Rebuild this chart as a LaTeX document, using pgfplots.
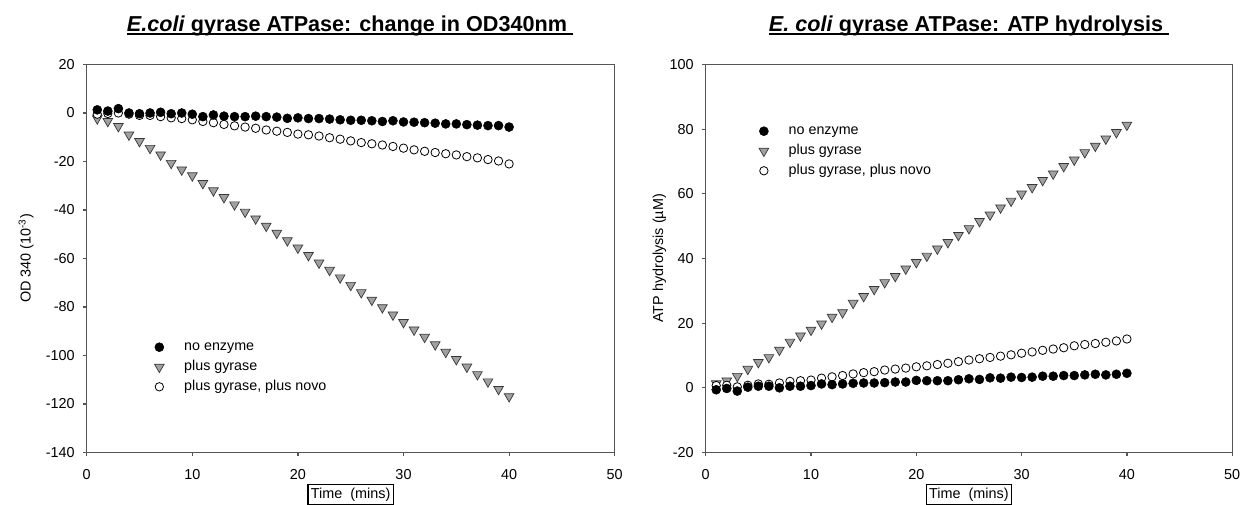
\documentclass[border=0pt]{standalone}
\usepackage{fontspec}
\setmainfont{Liberation Sans}
\usepackage{pgfplots}
\pgfplotsset{compat=1.18}
\usepackage{pgfplotstable}

\definecolor{axgray}{RGB}{85,85,85}
\definecolor{trifill}{RGB}{160,160,160}
\definecolor{triedge}{RGB}{55,55,55}

% change in OD340 (x 10^-3)
\pgfplotstableread{
t   ne    gy      nv
1   1.3   -2.3    -0.5
2   0.8   -3.4    -0.2
3   1.8   -5.5    0.0
4   0.0   -9.0    -0.5
5   -0.3  -11.7   -1.0
6   0.0   -14.5   -1.0
7   0.3   -17.2   -1.5
8   -0.3  -20.7   -2.0
9   0.0   -23.4   -2.3
10  -0.5  -25.8   -2.8
11  -1.5  -29.0   -3.5
12  -0.8  -32.0   -4.0
13  -1.3  -34.8   -4.7
14  -1.5  -37.8   -5.3
15  -1.5  -40.8   -5.8
16  -1.3  -43.6   -6.3
17  -1.5  -46.6   -7.0
18  -1.7  -49.5   -7.5
19  -2.2  -52.6   -8.0
20  -2.0  -55.6   -8.7
21  -2.3  -58.7   -9.0
22  -2.3  -61.8   -9.5
23  -2.5  -64.8   -10.2
24  -2.8  -67.9   -10.8
25  -3.0  -71.0   -11.5
26  -3.0  -74.0   -12.2
27  -3.2  -77.1   -12.7
28  -3.5  -80.2   -13.2
29  -3.2  -83.2   -13.8
30  -3.7  -86.3   -14.5
31  -3.8  -89.4   -15.2
32  -4.0  -92.4   -15.8
33  -4.2  -95.5   -16.3
34  -4.5  -98.6   -16.8
35  -4.5  -101.6  -17.3
36  -4.8  -104.7  -18.0
37  -5.0  -107.8  -18.5
38  -5.2  -110.8  -19.2
39  -5.2  -113.9  -19.8
40  -5.8  -116.9  -21.0
}\odtab

% ATP hydrolysis (uM)
\pgfplotstableread{
t   ne    gy     nv
1   -0.6  1.3    0.7
2   -0.2  2.2    0.8
3   -1.0  3.6    0.3
4   0.2   5.8    0.8
5   0.5   7.9    1.2
6   0.5   9.4    1.1
7   0.0   11.7   1.5
8   0.5   14.2   2.0
9   0.5   16.1   2.2
10  0.7   17.9   2.4
11  1.2   19.8   3.0
12  1.0   21.9   3.4
13  1.2   23.3   3.8
14  1.4   26.2   4.3
15  1.5   28.3   4.7
16  1.5   30.5   5.0
17  1.6   32.6   5.5
18  1.8   34.5   5.8
19  1.8   36.8   6.1
20  2.3   38.8   6.5
21  2.2   40.8   6.8
22  2.2   43.0   7.2
23  2.2   45.0   7.6
24  2.5   47.2   8.1
25  2.8   49.3   8.6
26  2.6   51.5   9.0
27  3.1   53.5   9.4
28  3.0   55.7   9.8
29  3.3   57.8   10.2
30  3.2   60.0   10.7
31  3.3   62.0   11.1
32  3.6   64.2   11.6
33  3.6   66.2   12.0
34  3.8   68.5   12.4
35  3.8   70.5   13.0
36  4.0   72.8   13.4
37  4.2   74.8   13.7
38  4.0   77.0   14.1
39  4.2   79.0   14.5
40  4.5   81.3   15.1
}\atptab

\pgfplotsset{
  noenz/.style={only marks, mark=*, mark size=4.5pt,
    mark options={fill=black, draw=black, line width=0.5pt}},
  plusgy/.style={only marks, mark=triangle*, mark size=5.6pt,
    mark options={rotate=180, fill=trifill, draw=triedge, line width=0.7pt}},
  novo/.style={only marks, mark=*, mark size=4.2pt,
    mark options={fill=white, draw=black, line width=0.8pt}},
  chart/.style={
    scale only axis, anchor=south west,
    height=388pt,
    xmin=0, xmax=50, xtick={0,10,...,50},
    axis line style={axgray, line width=1.2pt},
    every tick/.style={axgray, line width=1.2pt},
    tick align=outside, major tick length=4pt,
    xtick pos=left, ytick pos=left,
    tick label style={font=\fontsize{14.4}{16}\selectfont},
    xticklabel style={yshift=-9pt},
    yticklabel style={xshift=-4.5pt},
    /pgf/number format/assume math mode=true,
    label style={font=\fontsize{14.4}{16}\selectfont},
    xlabel={Time\ \ (mins)},
    xlabel style={draw=black, line width=1.2pt, inner xsep=3pt, inner ysep=3.5pt,
      text height=10pt, text depth=3pt,
      at={(axis description cs:0.5,-0.0812)}, anchor=north},
    legend style={draw=none, fill=none, inner sep=0pt, row sep=2.8pt,
      column sep=18pt, anchor=north west,
      font=\fontsize{14.3}{16}\selectfont,
      nodes={inner sep=2pt, text height=10pt, text depth=3pt}},
    legend cell align=left,
    legend image code/.code={\draw[##1] plot coordinates {(0pt,0pt)};},
  },
}

\begin{document}
\begin{tikzpicture}
\useasboundingbox (0pt,0pt) rectangle (1240pt,505pt);

\node[anchor=base, inner sep=0pt, font=\fontsize{21.6}{24}\selectfont\bfseries] (t1)
  at (350pt,473.3pt) {\textit{E.coli} gyrase ATPase: change in OD340nm\ \kern0pt};
\draw[line width=1.4pt] ([yshift=-2.2pt]t1.base west) -- ([yshift=-2.2pt]t1.base east);

\node[anchor=base, inner sep=0pt, font=\fontsize{21.6}{24}\selectfont\bfseries] (t2)
  at (969pt,473.3pt) {\textit{E. coli} gyrase ATPase: ATP hydrolysis\ \kern0pt};
\draw[line width=1.4pt] ([yshift=-2.2pt]t2.base west) -- ([yshift=-2.2pt]t2.base east);

\begin{axis}[chart, at={(86.7pt,52.5pt)}, width=528pt,
  ymin=-140, ymax=20, ytick={-140,-120,...,20},
  ylabel={OD 340 (10\textsuperscript{-3})},
  ylabel style={at={(axis description cs:-0.106,0.5)}, anchor=base},
  legend style={at={(0.128,0.2938)}}]
\addlegendimage{noenz}\addlegendentry{no enzyme}
\addlegendimage{plusgy}\addlegendentry{plus gyrase}
\addlegendimage{novo}\addlegendentry{plus gyrase, plus novo}
\addplot[plusgy, forget plot] table[x=t, y=gy] {\odtab};
\addplot[novo, forget plot] table[x=t, y=nv] {\odtab};
\addplot[noenz, forget plot] table[x=t, y=ne] {\odtab};
\end{axis}

\begin{axis}[chart, at={(705.7pt,52.5pt)}, width=526.5pt,
  ymin=-20, ymax=100, ytick={-20,0,...,100},
  ylabel={ATP hydrolysis (µM)},
  ylabel style={at={(axis description cs:-0.0811,0.5)}, anchor=base},
  legend style={at={(0.1009,0.8505)}}]
\addlegendimage{noenz}\addlegendentry{no enzyme}
\addlegendimage{plusgy}\addlegendentry{plus gyrase}
\addlegendimage{novo}\addlegendentry{plus gyrase, plus novo}
\addplot[plusgy, forget plot] table[x=t, y=gy] {\atptab};
\addplot[novo, forget plot] table[x=t, y=nv] {\atptab};
\addplot[noenz, forget plot] table[x=t, y=ne] {\atptab};
\end{axis}
\end{tikzpicture}
\end{document}
